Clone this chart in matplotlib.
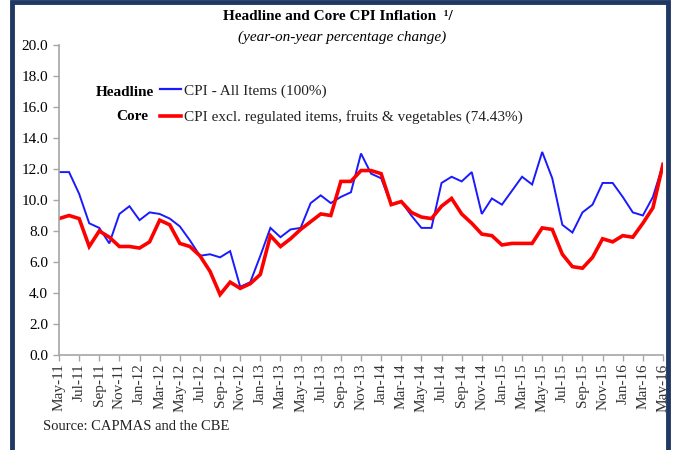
import pandas as pd
import matplotlib
matplotlib.use("Agg")
import matplotlib.pyplot as plt
from matplotlib.lines import Line2D
from matplotlib.patches import Rectangle

plt.rcParams['font.family'] = ['Liberation Serif', 'DejaVu Serif']

# monthly data, May-11 .. May-16
months = pd.date_range('2011-05-01', periods=61, freq='MS').strftime('%b-%y').tolist()

headline = [11.8, 11.8, 10.4, 8.5, 8.2, 7.2, 9.1, 9.6, 8.7, 9.2, 9.1, 8.8, 8.3,
            7.4, 6.4, 6.5, 6.3, 6.7, 4.4, 4.7, 6.4, 8.2, 7.6, 8.1, 8.2,
            9.8, 10.3, 9.8, 10.2, 10.5, 13.0, 11.7, 11.4, 9.7, 9.9, 9.0, 8.2,
            8.2, 11.1, 11.5, 11.2, 11.8, 9.1, 10.1, 9.7, 10.6, 11.5, 11.0, 13.1,
            11.4, 8.4, 7.9, 9.2, 9.7, 11.1, 11.1, 10.2, 9.2, 9.0, 10.2, 12.3]

core = [8.8, 9.0, 8.8, 7.0, 8.0, 7.6, 7.0, 7.0, 6.9, 7.3, 8.7, 8.4, 7.2,
        7.0, 6.4, 5.4, 3.9, 4.7, 4.3, 4.6, 5.2, 7.7, 7.0, 7.5, 8.1,
        8.6, 9.1, 9.0, 11.2, 11.2, 11.9, 11.9, 11.7, 9.7, 9.9, 9.2, 8.9,
        8.8, 9.6, 10.1, 9.1, 8.5, 7.8, 7.7, 7.1, 7.2, 7.2, 7.2, 8.2,
        8.1, 6.5, 5.7, 5.6, 6.3, 7.5, 7.3, 7.7, 7.6, 8.5, 9.5, 12.3]

yticks = [0, 2, 4, 6, 8, 10, 12, 14, 16, 18, 20]

fig = plt.figure(figsize=(6.73, 4.5), dpi=100)
ax = fig.add_axes([59 / 673, 1 - 355 / 450, 604 / 673, 310 / 450])

x = list(range(len(months)))
ax.plot(x, headline, color='#1a1aff', lw=1.4, solid_joinstyle='miter')
ax.plot(x, core, color='#ff0000', lw=2.6, solid_joinstyle='miter')

ax.set_xlim(0, len(months) - 1)
ax.set_ylim(0, 20)
ax.set_yticks(yticks)
ax.set_yticklabels(['%.1f' % v for v in yticks], fontsize=11)
ax.set_xticks(x[::2])
ax.set_xticklabels(months[::2], rotation=90, fontsize=11, color='#333333')

for s in ['top', 'right']:
    ax.spines[s].set_visible(False)
for s in ['left', 'bottom']:
    ax.spines[s].set_color('#a6a6a6')
    ax.spines[s].set_linewidth(1.2)
ax.tick_params(axis='both', color='#a6a6a6', length=4, width=1)
ax.tick_params(axis='y', pad=4)
ax.tick_params(axis='x', pad=2)

# titles
fig.text(338 / 673, 1 - 17 / 450, 'Headline and Core CPI Inflation  \u00b9/', ha='center', va='center',
         fontsize=11, fontweight='bold')
fig.text(342 / 673, 1 - 37 / 450, '(year-on-year percentage change)', ha='center', va='center',
         fontsize=11, style='italic')

# legend
handles = [Line2D([], [], color='#1a1aff', lw=1.6), Line2D([], [], color='#ff0000', lw=2.6)]
labels = ['CPI - All Items (100%)', 'CPI excl. regulated items, fruits & vegetables (74.43%)']
fig.legend(handles, labels, loc='upper left', bbox_to_anchor=(160 / 673, 1 - 84 / 450),
           frameon=False, fontsize=11, handlelength=1.4, handletextpad=0.15,
           borderpad=0, borderaxespad=0, labelspacing=0.8, labelcolor='#222222')
fig.text(96 / 673, 1 - 92 / 450, 'Headline', ha='left', va='center', fontsize=11, fontweight='bold')
fig.text(116 / 673, 1 - 117 / 450, 'Core', ha='left', va='center', fontsize=11, fontweight='bold')

fig.text(43 / 673, 1 - 426 / 450, 'Source: CAPMAS and the CBE', ha='left', va='center',
         fontsize=10.5, color='#222222')

# navy frame round the chart
fig.patches.append(Rectangle((12 / 673, -0.1), 656 / 673, 1.1 - 2 / 450, transform=fig.transFigure,
                             fill=False, edgecolor='#1f3864', lw=3.5, clip_on=False))

fig.savefig('out.png', dpi=100)
